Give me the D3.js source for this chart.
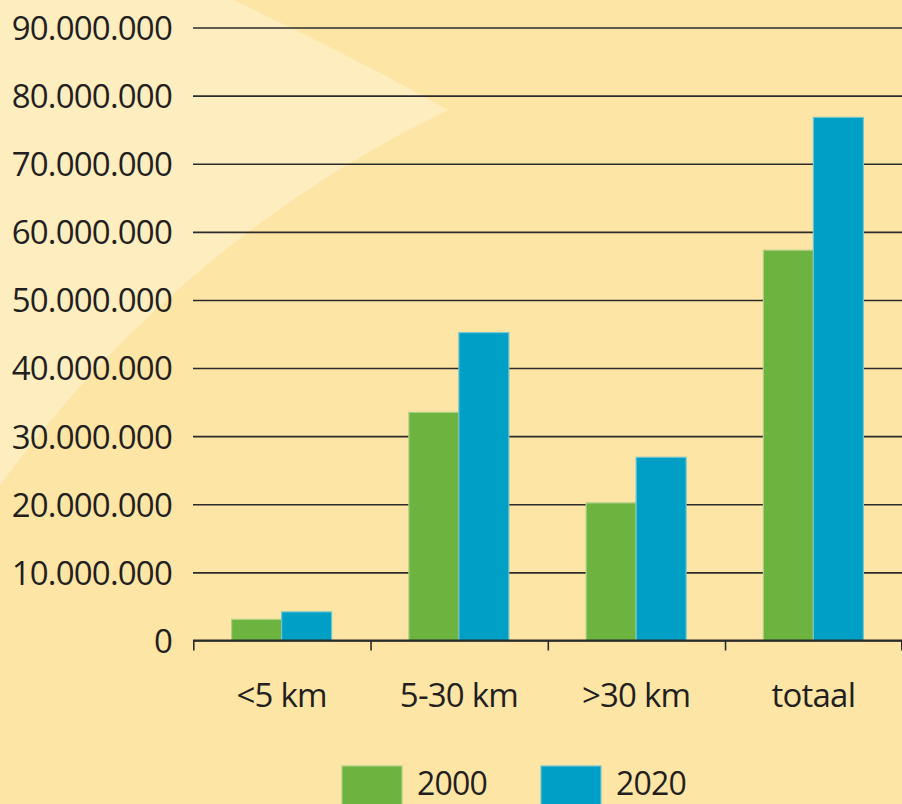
<!DOCTYPE html>
<html>
<head>
<meta charset="utf-8">
<script src="https://cdn.jsdelivr.net/npm/d3@7"></script>
<style>
  html, body { margin: 0; padding: 0; background: #fde5a5; }
  svg { display: block; }
  text { font-family: "Open Sans", "Noto Sans", sans-serif; fill: #231f20; }
</style>
</head>
<body>
<svg id="chart" width="902" height="804"></svg>
<script>
// Verplaatsingen per afstandsklasse
const categories = ["<5 km", "5-30 km", ">30 km", "totaal"];
const years = ["2000", "2020"];
const values2000 = [3100000, 33500000, 20200000, 57300000];
const values2020 = [4200000, 45200000, 26900000, 76800000];
const yTicks = [0, 10000000, 20000000, 30000000, 40000000, 50000000, 60000000, 70000000, 80000000, 90000000];
const colors = ["#6db33f", "#00a0c6"];

const W = 902, H = 804;
const bg = "#fde5a5", bgLight = "#feedbf";
const margin = { left: 193, right: 0, top: 27.5, bottom: 640.5 };

const svg = d3.select("#chart");

// background with a pale swoosh in the top-left corner
svg.append("rect").attr("width", W).attr("height", H).attr("fill", bg);
const sw = d3.path();
sw.moveTo(0, 0);
sw.lineTo(233, 0);
sw.quadraticCurveTo(350, 55, 448, 110);
sw.quadraticCurveTo(180, 240, 0, 485);
sw.closePath();
svg.append("path").attr("d", sw.toString()).attr("fill", bgLight);

const nl = d3.formatLocale({ decimal: ",", thousands: ".", grouping: [3], currency: ["€", ""] });
const fmt = nl.format(",");

const y = d3.scaleLinear().domain([0, 90000000]).range([margin.bottom, margin.top]);
const x = d3.scaleBand().domain(categories).range([margin.left, W]).paddingInner(0).paddingOuter(0);
const barW = 50;
const x1 = d3.scaleBand().domain(years)
  .range([(x.bandwidth() - 2 * barW) / 2, (x.bandwidth() + 2 * barW) / 2]);

// gridlines + value labels
const yAxis = d3.axisLeft(y).tickValues(yTicks).tickFormat(fmt)
  .tickSize(-(W - margin.left)).tickPadding(21);
const gy = svg.append("g").attr("transform", `translate(${margin.left},0)`).call(yAxis);
gy.select(".domain").remove();
gy.selectAll(".tick line").attr("stroke", "#2b2b2b").attr("stroke-width", 1.6);
gy.selectAll(".tick text")
  .attr("font-size", 33).attr("letter-spacing", "-0.8px")
  .attr("dy", "0.36em").attr("fill", "#231f20")
  .style("font-family", '"Open Sans", "Noto Sans", sans-serif');

// bars
const series = [values2000, values2020];
const groups = svg.append("g").selectAll("g")
  .data(categories).join("g")
  .attr("transform", d => `translate(${x(d)},0)`);
groups.selectAll("rect")
  .data((c, i) => years.map((yr, k) => ({ year: yr, value: series[k][i], k })))
  .join("rect")
  .attr("x", d => x1(d.year))
  .attr("width", x1.bandwidth())
  .attr("y", d => y(d.value))
  .attr("height", d => y(0) - y(d.value))
  .attr("fill", d => colors[d.k])
  .attr("stroke", d => d3.interpolateRgb(colors[d.k], "#fff3d6")(0.45))
  .attr("stroke-width", 1.2);

// baseline with category separators
const gx = svg.append("g");
gx.append("line")
  .attr("x1", margin.left).attr("x2", W)
  .attr("y1", y(0)).attr("y2", y(0))
  .attr("stroke", "#2b2b2b").attr("stroke-width", 1.8);
const sep = categories.map(c => x(c)).concat([x.range()[1] - 1]);
gx.selectAll("line.sep").data(sep).join("line")
  .attr("class", "sep")
  .attr("x1", d => d + 0.8).attr("x2", d => d + 0.8)
  .attr("y1", y(0)).attr("y2", y(0) + 10)
  .attr("stroke", "#2b2b2b").attr("stroke-width", 1.6);
gx.selectAll("text").data(categories).join("text")
  .attr("x", d => x(d) + x.bandwidth() / 2)
  .attr("y", y(0) + 66)
  .attr("text-anchor", "middle")
  .attr("font-size", 33).attr("letter-spacing", "-0.8px")
  .text(d => d);

// legend
const legend = svg.append("g").selectAll("g")
  .data(years).join("g")
  .attr("transform", (d, i) => `translate(${342 + i * 199},766)`);
legend.append("rect")
  .attr("width", 60).attr("height", 40)
  .attr("fill", (d, i) => colors[i])
  .attr("stroke", (d, i) => d3.interpolateRgb(colors[i], "#fff3d6")(0.45))
  .attr("stroke-width", 1.2);
legend.append("text")
  .attr("x", 75).attr("y", 29)
  .attr("font-size", 32).attr("letter-spacing", "-0.8px")
  .text(d => d);
</script>
</body>
</html>
